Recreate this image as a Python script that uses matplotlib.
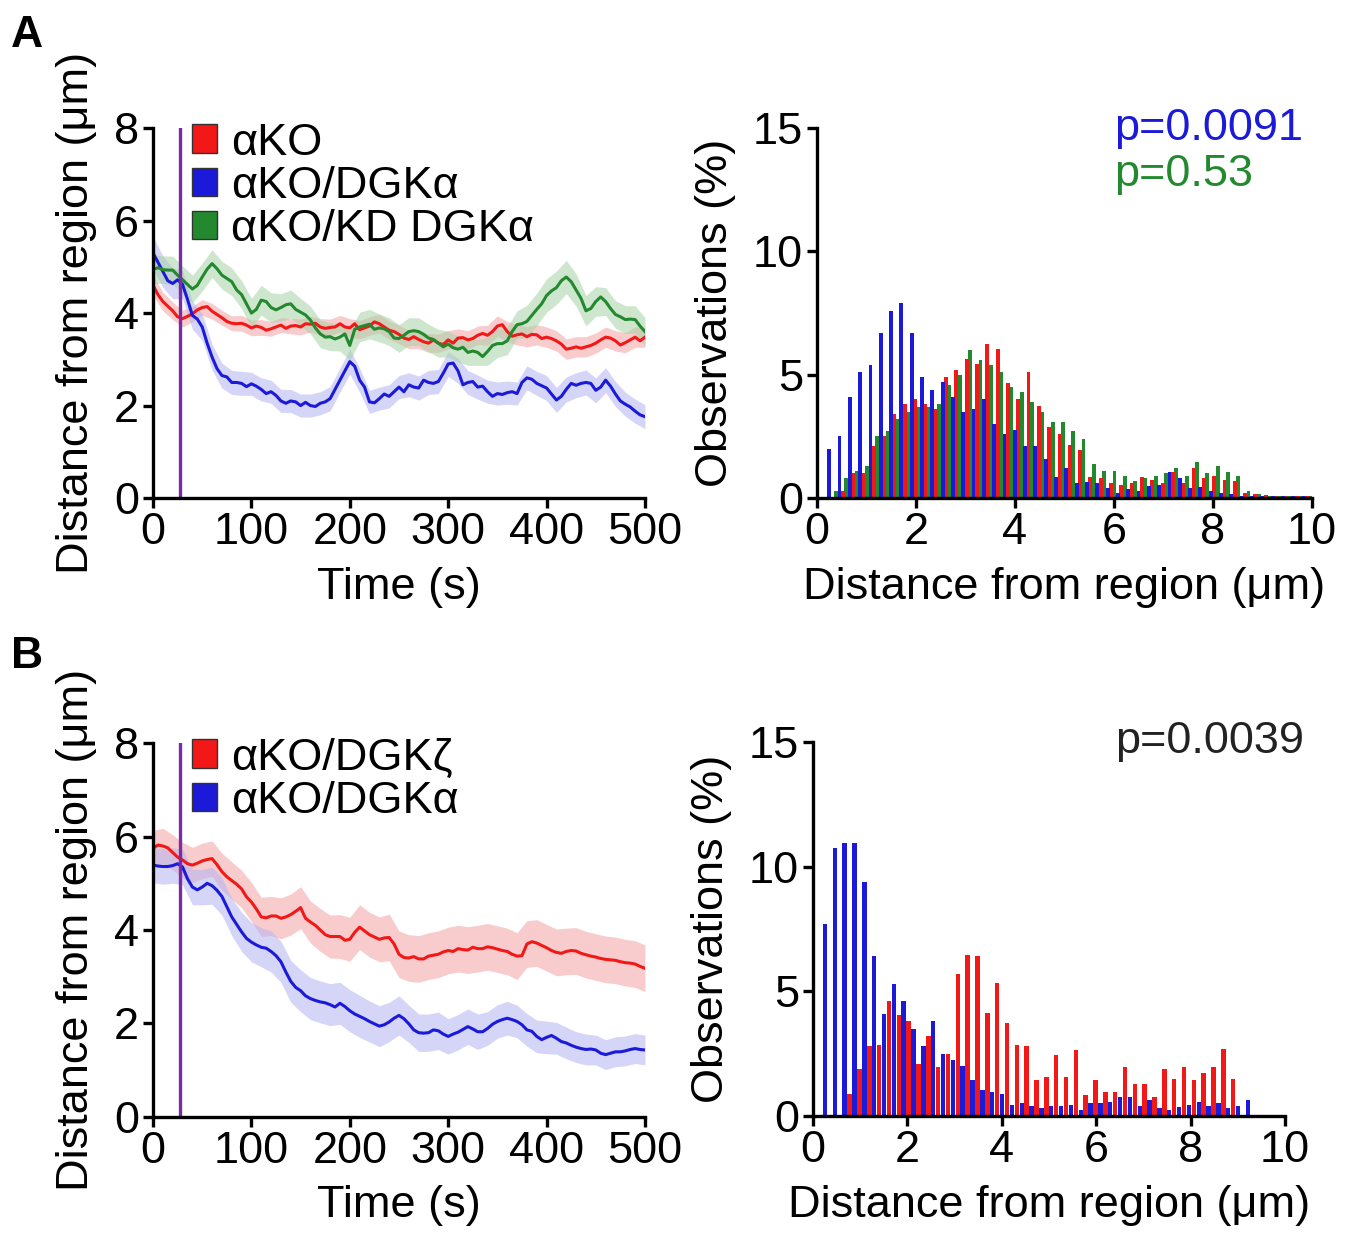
import numpy as np
import matplotlib.pyplot as plt
import matplotlib.patches as mpatches

plt.rcParams['font.family'] = ['Liberation Sans', 'DejaVu Sans']
plt.rcParams['font.size'] = 32.5

# time courses, one value every 5 s
time = np.arange(0, 505, 5)
time_sem = np.arange(0, 510, 10)
stim_time = 27

ko_a = [4.6, 4.4, 4.25, 4.15, 4.05, 3.92, 3.88, 3.93, 3.98, 4.07,
        4.12, 4.14, 4.04, 3.97, 3.9, 3.82, 3.78, 3.77, 3.78, 3.74,
        3.68, 3.72, 3.69, 3.63, 3.66, 3.7, 3.74, 3.67, 3.72, 3.73,
        3.7, 3.77, 3.76, 3.78, 3.7, 3.67, 3.69, 3.7, 3.77, 3.7,
        3.68, 3.77, 3.64, 3.68, 3.72, 3.81, 3.77, 3.7, 3.63, 3.6,
        3.54, 3.46, 3.43, 3.49, 3.43, 3.38, 3.35, 3.42, 3.35, 3.32,
        3.42, 3.35, 3.46, 3.47, 3.42, 3.45, 3.52, 3.56, 3.52, 3.6,
        3.72, 3.75, 3.6, 3.5, 3.53, 3.55, 3.49, 3.54, 3.53, 3.45,
        3.48, 3.45, 3.4, 3.33, 3.22, 3.24, 3.27, 3.24, 3.27, 3.3,
        3.35, 3.42, 3.48, 3.46, 3.4, 3.31, 3.36, 3.42, 3.48, 3.4,
        3.48]
dgka_a = [5.3, 5.1, 4.9, 4.7, 4.64, 4.72, 4.62, 4.3, 3.95, 3.87,
          3.7, 3.35, 3.05, 2.8, 2.65, 2.62, 2.5, 2.5, 2.48, 2.41,
          2.47, 2.42, 2.35, 2.26, 2.3, 2.22, 2.1, 2.05, 2.1, 2.08,
          2.0, 2.07, 2.0, 1.98, 2.05, 2.08, 2.15, 2.35, 2.55, 2.75,
          2.95, 2.85, 2.55, 2.4, 2.08, 2.06, 2.15, 2.25, 2.2, 2.3,
          2.4, 2.3, 2.45, 2.4, 2.38, 2.55, 2.5, 2.48, 2.52, 2.7,
          2.9, 2.92, 2.75, 2.45, 2.5, 2.52, 2.4, 2.42, 2.3, 2.2,
          2.26, 2.24, 2.28, 2.3, 2.26, 2.5, 2.6, 2.57, 2.48, 2.43,
          2.38, 2.25, 2.12, 2.2, 2.35, 2.48, 2.44, 2.48, 2.5, 2.48,
          2.33, 2.4, 2.55, 2.42, 2.25, 2.1, 2.03, 1.97, 1.88, 1.8,
          1.76]
kd_a = [4.95, 4.98, 4.94, 4.93, 4.93, 4.82, 4.72, 4.62, 4.52, 4.6,
        4.78, 4.95, 5.07, 4.96, 4.82, 4.75, 4.68, 4.5, 4.4, 4.2,
        4.0, 4.08, 4.28, 4.25, 4.12, 4.07, 4.12, 4.18, 4.2, 4.08,
        4.02, 3.96, 3.85, 3.68, 3.55, 3.48, 3.49, 3.44, 3.48, 3.55,
        3.3, 3.65, 3.7, 3.73, 3.76, 3.65, 3.68, 3.66, 3.6, 3.46,
        3.45, 3.52, 3.6, 3.62, 3.6, 3.54, 3.46, 3.43, 3.35, 3.27,
        3.33, 3.25, 3.22, 3.26, 3.15, 3.18, 3.15, 3.06, 3.17, 3.3,
        3.34, 3.34, 3.4, 3.6, 3.75, 3.77, 3.82, 3.95, 4.08, 4.2,
        4.38, 4.48, 4.55, 4.7, 4.78, 4.68, 4.5, 4.32, 4.05, 4.1,
        4.25, 4.35, 4.25, 4.1, 3.97, 3.92, 3.86, 3.87, 3.86, 3.72,
        3.6]
dgkz_b = [5.75, 5.82, 5.8, 5.76, 5.66, 5.56, 5.5, 5.42, 5.39, 5.43,
          5.48, 5.51, 5.53, 5.4, 5.25, 5.14, 5.06, 4.98, 4.88, 4.71,
          4.6, 4.45, 4.28, 4.26, 4.3, 4.3, 4.25, 4.28, 4.33, 4.4,
          4.48, 4.25, 4.17, 4.1, 4.0, 3.9, 3.86, 3.86, 3.86, 3.78,
          3.8, 3.95, 4.06, 3.98, 3.9, 3.85, 3.8, 3.83, 3.84, 3.7,
          3.48, 3.41, 3.4, 3.43, 3.38, 3.38, 3.44, 3.46, 3.48, 3.53,
          3.56, 3.54, 3.6, 3.58, 3.57, 3.63, 3.6, 3.6, 3.64, 3.62,
          3.59, 3.56, 3.54, 3.48, 3.44, 3.45, 3.7, 3.75, 3.72, 3.67,
          3.62, 3.56, 3.52, 3.5, 3.54, 3.56, 3.55, 3.5, 3.47, 3.44,
          3.42, 3.39, 3.37, 3.36, 3.35, 3.32, 3.3, 3.29, 3.27, 3.22,
          3.18]
dgka_b = [5.39, 5.37, 5.36, 5.36, 5.38, 5.42, 5.35, 5.1, 4.92, 4.86,
          4.92, 5.0, 4.95, 4.85, 4.72, 4.5, 4.28, 4.12, 3.96, 3.82,
          3.74, 3.68, 3.63, 3.61, 3.54, 3.45, 3.32, 3.1, 2.9, 2.77,
          2.7, 2.59, 2.53, 2.49, 2.46, 2.44, 2.4, 2.35, 2.43, 2.36,
          2.27, 2.2, 2.15, 2.1, 2.04, 1.99, 1.94, 1.97, 2.03, 2.11,
          2.17, 2.1, 1.99, 1.86, 1.8, 1.79, 1.8, 1.86, 1.84, 1.77,
          1.72, 1.77, 1.81, 1.87, 1.93, 1.88, 1.82, 1.82, 1.89, 1.98,
          2.04, 2.08, 2.11, 2.08, 2.04, 1.97, 1.86, 1.83, 1.72, 1.65,
          1.7, 1.74, 1.68, 1.61, 1.58, 1.53, 1.49, 1.46, 1.44, 1.45,
          1.43, 1.36, 1.33, 1.36, 1.39, 1.39, 1.41, 1.44, 1.46, 1.44,
          1.43]

# SEM bands, one value every 10 s
ko_a_sem = [0.22, 0.2, 0.19, 0.18, 0.17, 0.17, 0.17, 0.16, 0.16, 0.17,
            0.17, 0.17, 0.16, 0.16, 0.17, 0.17, 0.17, 0.18, 0.18, 0.18,
            0.2, 0.2, 0.2, 0.2, 0.2, 0.2, 0.2, 0.2, 0.2, 0.2,
            0.2, 0.2, 0.2, 0.2, 0.22, 0.22, 0.22, 0.22, 0.22, 0.22,
            0.22, 0.22, 0.22, 0.22, 0.22, 0.22, 0.22, 0.22, 0.22, 0.22,
            0.22]
dgka_a_sem = [0.35, 0.34, 0.33, 0.31, 0.3, 0.29, 0.28, 0.27, 0.26, 0.26,
              0.25, 0.25, 0.25, 0.25, 0.25, 0.25, 0.25, 0.25, 0.26, 0.26,
              0.27, 0.26, 0.25, 0.25, 0.25, 0.25, 0.26, 0.26, 0.26, 0.26,
              0.27, 0.27, 0.26, 0.26, 0.25, 0.25, 0.25, 0.25, 0.26, 0.26,
              0.27, 0.27, 0.27, 0.27, 0.27, 0.27, 0.27, 0.27, 0.26, 0.26,
              0.26]
kd_a_sem = [0.3, 0.3, 0.3, 0.3, 0.3, 0.3, 0.3, 0.3, 0.3, 0.3,
            0.32, 0.32, 0.32, 0.3, 0.3, 0.3, 0.3, 0.3, 0.3, 0.3,
            0.32, 0.32, 0.32, 0.3, 0.3, 0.3, 0.3, 0.3, 0.3, 0.3,
            0.28, 0.28, 0.28, 0.28, 0.3, 0.3, 0.3, 0.3, 0.35, 0.35,
            0.36, 0.36, 0.36, 0.35, 0.33, 0.32, 0.3, 0.3, 0.3, 0.3,
            0.3]
dgkz_b_sem = [0.38, 0.38, 0.38, 0.38, 0.38, 0.38, 0.38, 0.4, 0.4, 0.4,
              0.42, 0.42, 0.42, 0.44, 0.44, 0.45, 0.45, 0.46, 0.46, 0.47,
              0.47, 0.48, 0.48, 0.48, 0.5, 0.5, 0.5, 0.5, 0.5, 0.5,
              0.5, 0.5, 0.5, 0.5, 0.5, 0.5, 0.5, 0.5, 0.5, 0.5,
              0.5, 0.5, 0.5, 0.5, 0.5, 0.5, 0.5, 0.5, 0.5, 0.5,
              0.5]
dgka_b_sem = [0.38, 0.38, 0.38, 0.38, 0.38, 0.38, 0.4, 0.4, 0.4, 0.42,
              0.42, 0.42, 0.44, 0.44, 0.45, 0.45, 0.45, 0.45, 0.45, 0.45,
              0.45, 0.45, 0.44, 0.44, 0.42, 0.42, 0.4, 0.4, 0.4, 0.4,
              0.38, 0.38, 0.38, 0.38, 0.36, 0.36, 0.36, 0.35, 0.35, 0.35,
              0.35, 0.34, 0.34, 0.33, 0.33, 0.32, 0.32, 0.32, 0.32, 0.32,
              0.32]

# histograms: 48 bins over 0-10 um
n_bins = 48
ko_hist_a = [0.0, 0.3, 1.0, 1.0, 2.1, 2.5, 3.4, 3.8, 4.0, 3.8,
             3.6, 4.9, 5.2, 5.65, 5.45, 6.25, 6.05, 4.65, 4.0, 5.1,
             3.75, 2.9, 2.6, 2.15, 1.95, 0.85, 0.8, 0.6, 0.55, 0.6,
             0.85, 0.75, 0.6, 1.05, 0.6, 1.2, 0.8, 0.9, 0.75, 0.7,
             0.2, 0.15, 0.12, 0.1, 0.1, 0.08, 0.1, 0.08]
dgka_hist_a = [2.0, 2.5, 4.1, 5.1, 5.4, 6.7, 7.6, 7.9, 6.7, 4.9,
               4.4, 4.7, 4.1, 3.5, 3.6, 4.0, 3.0, 2.6, 2.75, 2.1,
               2.1, 1.6, 0.85, 1.2, 0.6, 0.65, 0.6, 0.4, 0.2, 0.35,
               0.3, 0.5, 0.55, 1.05, 0.8, 0.4, 0.45, 0.3, 0.2, 0.15,
               0.1, 0.1, 0.08, 0.1, 0.08, 0.1, 0.08, 0.1]
kd_hist_a = [0.3, 0.8, 1.1, 1.3, 2.5, 2.7, 3.2, 3.5, 3.7, 3.7,
             3.8, 4.6, 5.0, 6.0, 5.6, 5.4, 5.1, 4.5, 4.3, 3.9,
             3.5, 3.1, 3.1, 2.7, 2.4, 1.4, 1.1, 1.1, 0.9, 0.7,
             0.8, 0.9, 1.0, 1.2, 0.9, 1.45, 1.0, 1.3, 1.05, 0.9,
             0.3, 0.15, 0.1, 0.1, 0.08, 0.1, 0.08, 0.1]
dgkz_hist_b = [0, 0, 0.9, 1.9, 2.8, 2.85, 4.6, 4.06, 3.8, 2.1,
               3.2, 1.97, 2.5, 5.7, 6.47, 6.4, 4.12, 5.33, 3.72, 2.85,
               2.8, 1.45, 1.58, 2.45, 1.58, 2.65, 0.84, 1.45, 0.98, 0.98,
               1.98, 1.3, 1.3, 0.77, 1.9, 1.47, 1.98, 1.45, 1.71, 1.98,
               2.68, 1.47, 0, 0, 0, 0, 0, 0]
dgka_hist_b = [7.7, 10.75, 10.95, 10.95, 9.4, 6.4, 4.1, 5.3, 4.6, 3.5,
               2.8, 3.8, 2.5, 2.25, 2.0, 1.45, 1.04, 0.98, 0.9, 0.45,
               0.53, 0.38, 0.3, 0.4, 0.4, 0.45, 0.25, 0.5, 0.5, 0.57,
               0.78, 0.78, 0.38, 0.64, 0.3, 0.25, 0.36, 0.43, 0.57, 0.4,
               0.5, 0.3, 0.4, 0.64, 0, 0, 0, 0]

RED = '#f21818'
BLUE = '#1a1ad8'
GREEN = '#23892f'
PURPLE = '#7b2aa8'
DIST_LABEL = 'Distance from region (\u03bcm)'


def style_axes(ax):
    for side in ['top', 'right']:
        ax.spines[side].set_visible(False)
    for side in ['left', 'bottom']:
        ax.spines[side].set_linewidth(2.4)
    ax.tick_params(width=2.4, length=7, pad=3)


def time_panel(ax, series, labels):
    # series: (values, sem, line colour, band colour)
    for values, sem, color, band in series:
        lo = np.array(values[::2]) - np.array(sem)
        hi = np.array(values[::2]) + np.array(sem)
        ax.fill_between(time_sem, lo, hi, color=band, lw=0, alpha=0.55)
    for values, sem, color, band in series:
        ax.plot(time, values, color=color, lw=2.2)
    ax.axvline(stim_time, color=PURPLE, lw=2.4)
    ax.set_xlim(0, 500)
    ax.set_ylim(0, 8)
    ax.set_xticks([0, 100, 200, 300, 400, 500])
    ax.set_yticks([0, 2, 4, 6, 8])
    ax.set_xlabel('Time (s)', labelpad=10)
    ax.set_ylabel(DIST_LABEL, labelpad=12)
    handles = [mpatches.Patch(facecolor=s[2], edgecolor='#333333', lw=1) for s in series]
    ax.legend(handles, labels, loc='upper left', bbox_to_anchor=(0.08, 1.015),
              frameon=False, handlelength=0.55, handleheight=0.6,
              handletextpad=0.3, labelspacing=0.05, borderaxespad=0, borderpad=0)
    style_axes(ax)


def hist_panel(ax, series, width):
    bins = np.arange(1, n_bins + 1) * 10 / n_bins
    for values, color, offset in series:
        ax.bar(bins + offset, values, width=width, align='edge', color=color, lw=0)
    ax.set_xlim(0, 10)
    ax.set_ylim(0, 15)
    ax.set_xticks([0, 2, 4, 6, 8, 10])
    ax.set_yticks([0, 5, 10, 15])
    ax.set_xlabel(DIST_LABEL, labelpad=10)
    ax.set_ylabel('Observations (%)', labelpad=12)
    style_axes(ax)


fig = plt.figure(figsize=(13.65, 12.39), dpi=100)

ax1 = fig.add_axes([0.1121, 0.598, 0.3604, 0.2986])
time_panel(ax1, [(ko_a, ko_a_sem, RED, '#f4a3a3'),
                 (dgka_a, dgka_a_sem, BLUE, '#b4b4f2'),
                 (kd_a, kd_a_sem, GREEN, '#a6d3a6')],
           ['\u03b1KO', '\u03b1KO/DGK\u03b1', '\u03b1KO/KD DGK\u03b1'])

ax2 = fig.add_axes([0.5985, 0.598, 0.3626, 0.2986])
hist_panel(ax2, [(kd_hist_a, GREEN, 0.139), (ko_hist_a, RED, 0.069),
                 (dgka_hist_a, BLUE, 0.0)], 0.078)
ax2.text(0.6, 1.0, 'p=0.0091', color=BLUE, transform=ax2.transAxes, va='center')
ax2.text(0.6, 0.875, 'p=0.53', color=GREEN, transform=ax2.transAxes, va='center')

ax3 = fig.add_axes([0.1121, 0.0987, 0.3604, 0.3014])
time_panel(ax3, [(dgkz_b, dgkz_b_sem, RED, '#f4a3a3'),
                 (dgka_b, dgka_b_sem, BLUE, '#b4b4f2')],
           ['\u03b1KO/DGK\u03b6', '\u03b1KO/DGK\u03b1'])

ax4 = fig.add_axes([0.5956, 0.0993, 0.3458, 0.3019])
hist_panel(ax4, [(dgkz_hist_b, RED, 0.104), (dgka_hist_b, BLUE, 0.0)], 0.095)
ax4.text(0.64, 1.0, 'p=0.0039', color='#222222', transform=ax4.transAxes, va='center')

fig.text(0.008, 0.988, 'A', fontsize=32, fontweight='bold', va='top')
fig.text(0.008, 0.487, 'B', fontsize=32, fontweight='bold', va='top')

fig.savefig('out.png', dpi=100, facecolor='white')
